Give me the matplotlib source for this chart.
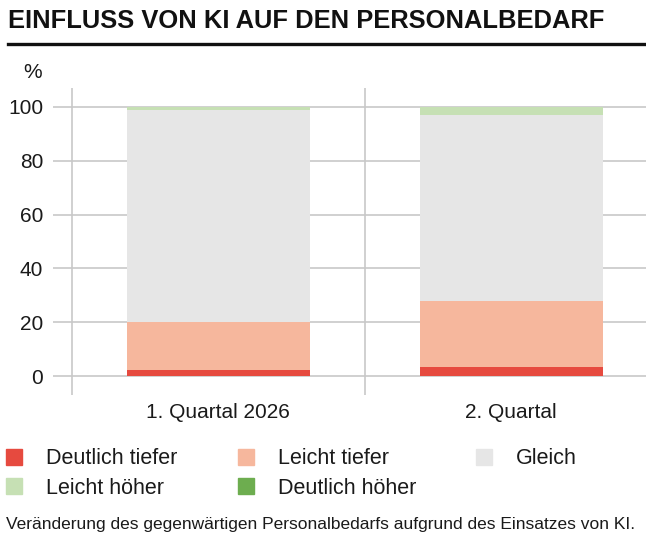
import numpy as np
import matplotlib.pyplot as plt
from matplotlib.patches import Rectangle
from matplotlib.lines import Line2D

plt.rcParams['font.family'] = ['Liberation Sans', 'DejaVu Sans']

categories = ["1. Quartal 2026", "2. Quartal"]
series_names = ["Deutlich tiefer", "Leicht tiefer", "Gleich", "Leicht höher", "Deutlich höher"]
deutlich_tiefer = [2.3, 3.5]
leicht_tiefer = [17.7, 24.2]
gleich = [78.7, 69.2]
leicht_hoeher = [1.3, 3.1]
deutlich_hoeher = [0.0, 0.0]
colors = ["#E64A3F", "#F6B79D", "#E6E6E6", "#C6E0B4", "#6DAD4F"]

W, H = 646, 543
fig = plt.figure(figsize=(W/100, H/100), dpi=100)
ax = fig.add_axes([53/W, 1-395/H, 1-53/W, 307/H])

x = np.arange(len(categories))
bottom = np.zeros(len(categories))
for vals, col in zip([deutlich_tiefer, leicht_tiefer, gleich, leicht_hoeher, deutlich_hoeher], colors):
    ax.bar(x, vals, width=0.625, bottom=bottom, color=col, zorder=3)
    bottom += np.array(vals)

# category width ~293.5 px, separators at -0.5/0.5/1.5
ax.set_xlim(-0.5 - 19/293.5, 1.46)
ax.set_ylim(-7.06, 107.06)
ax.set_yticks(range(0, 101, 20))
ax.set_xticks(x)
ax.set_xticklabels(categories)
ax.tick_params(axis='both', length=0, labelsize=15, colors='#1a1a1a')
ax.tick_params(axis='y', pad=7)
ax.tick_params(axis='x', pad=6)
for s in ax.spines.values():
    s.set_visible(False)
for yv in range(0, 101, 20):
    ax.axhline(yv, color='#c8c8c8', lw=1.2, zorder=1)
for xv in [-0.5, 0.5, 1.5]:
    ax.axvline(xv, color='#c8c8c8', lw=1.2, zorder=1)

fig.text(33/W, 1-73/H, "%", fontsize=15, ha='center', va='center', color='#1a1a1a')

# title and rule
fig.text(8/W, 1-21/H, "EINFLUSS VON KI AUF DEN PERSONALBEDARF", fontsize=18.4,
         fontweight='bold', ha='left', va='center', color='#111111')
fig.add_artist(Line2D([8/W, 1.0], [1-44/H, 1-44/H], color='#111111', lw=2.4))

# legend
legend_pos = [(6, 457), (238, 457), (476, 457), (6, 486), (238, 486)]
for name, col, (lx, ly) in zip(series_names, colors, legend_pos):
    fig.add_artist(Rectangle((lx/W, 1-(ly+8)/H), 16/W, 16/H, color=col,
                             transform=fig.transFigure))
    fig.text((lx+40)/W, 1-(ly+2)/H, name, fontsize=15.5, ha='left', va='center', color='#1a1a1a')

fig.text(6/W, 1-525/H, "Veränderung des gegenwärtigen Personalbedarfs aufgrund des Einsatzes von KI.",
         fontsize=12.5, ha='left', va='center', color='#1a1a1a')

fig.savefig("out.png", dpi=100)
